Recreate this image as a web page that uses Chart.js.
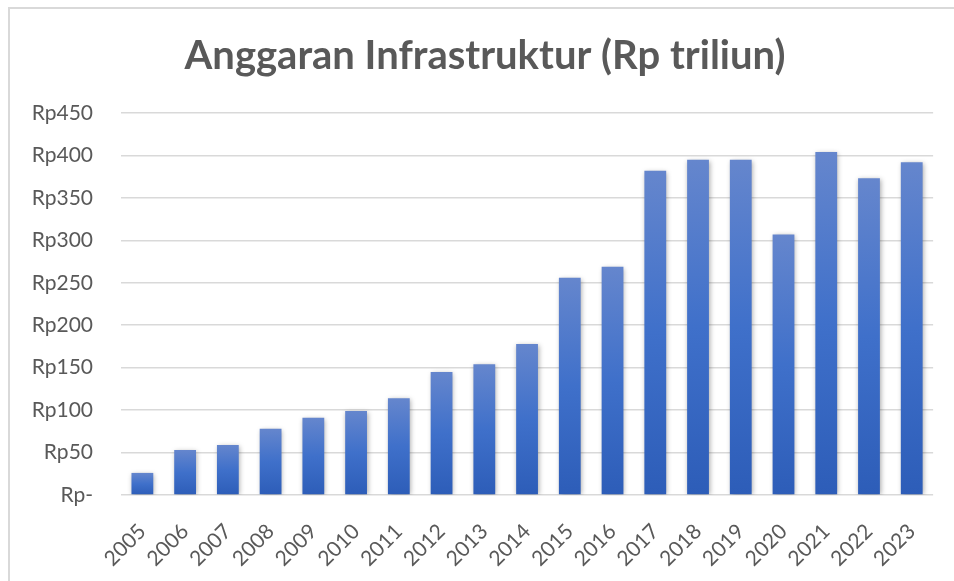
<!DOCTYPE html>
<html>
<head>
<meta charset="utf-8">
<script src="https://cdn.jsdelivr.net/npm/chart.js@4"></script>
<style>
html,body{margin:0;padding:0;background:#fff;overflow:hidden;}
#wrap{position:relative;width:954px;height:581px;}
</style>
</head>
<body>
<div id="wrap"><canvas id="c" width="954" height="581"></canvas></div>
<script>
const years = ['2005','2006','2007','2008','2009','2010','2011','2012','2013','2014','2015','2016','2017','2018','2019','2020','2021','2022','2023'];
const budget = [26, 53, 59, 78, 91, 99, 114, 145, 154, 178, 256, 269, 382, 395, 395, 307, 404, 373, 392];
const yTickValues = [0, 50, 100, 150, 200, 250, 300, 350, 400, 450];
const yTickLabels = ['Rp-', 'Rp50', 'Rp100', 'Rp150', 'Rp200', 'Rp250', 'Rp300', 'Rp350', 'Rp400', 'Rp450'];
const chartTitle = 'Anggaran Infrastruktur (Rp triliun)';

const textColor = '#595959';
const fontFam = 'Lato, "Open Sans", sans-serif';

const framePlugin = {
  id: 'frame',
  beforeDraw(chart) {
    const ctx = chart.ctx;
    ctx.save();
    ctx.fillStyle = '#ffffff';
    ctx.fillRect(0, 0, chart.width, chart.height);
    ctx.fillStyle = '#d9d9d9';
    ctx.fillRect(8, 7, 2, chart.height);
    ctx.fillRect(8, 7, chart.width, 2);
    ctx.restore();
  },
  afterDraw(chart) {
    const ctx = chart.ctx;
    ctx.save();
    ctx.fillStyle = textColor;
    ctx.font = 'bold 40px ' + fontFam;
    ctx.textAlign = 'center';
    ctx.textBaseline = 'middle';
    ctx.fillText(chartTitle, 485, 56);
    ctx.restore();
  }
};
const shadowPlugin = {
  id: 'barShadow',
  beforeDatasetsDraw(chart) {
    const ctx = chart.ctx;
    ctx.save();
    ctx.shadowColor = 'rgba(0,0,0,0.35)';
    ctx.shadowBlur = 5;
    ctx.shadowOffsetX = 1;
    ctx.shadowOffsetY = 1;
  },
  afterDatasetsDraw(chart) {
    chart.ctx.restore();
  }
};

function barGradient(context) {
  const chart = context.chart;
  const sy = chart.scales && chart.scales.y;
  if (!sy || !chart.chartArea || context.raw == null) return '#3e6fcb';
  const top = sy.getPixelForValue(context.raw);
  const base = sy.getPixelForValue(0);
  const g = chart.ctx.createLinearGradient(0, top, 0, base);
  g.addColorStop(0, '#6586cd');
  g.addColorStop(0.5, '#3f70ca');
  g.addColorStop(1, '#2d5db8');
  return g;
}

new Chart(document.getElementById('c'), {
  type: 'bar',
  data: {
    labels: years,
    datasets: [{
      data: budget,
      backgroundColor: barGradient,
      borderWidth: 0,
      categoryPercentage: 1.0,
      barPercentage: 0.51
    }]
  },
  plugins: [framePlugin, shadowPlugin],
  options: {
    responsive: false,
    animation: false,
    devicePixelRatio: 1,
    layout: { padding: { left: 0, right: 17, top: 113, bottom: 0 } },
    plugins: {
      legend: { display: false },
      tooltip: { enabled: false },
      title: { display: false }
    },
    scales: {
      x: {
        grid: { display: false, drawTicks: false },
        border: { display: false },
        ticks: {
          color: textColor,
          font: { family: fontFam, size: 21 },
          minRotation: 45,
          maxRotation: 45,
          padding: 24,
          autoSkip: false
        },
        afterFit(scale) { scale.height = 86; }
      },
      y: {
        min: 0,
        max: 450,
        afterBuildTicks(scale) { scale.ticks = yTickValues.map(v => ({ value: v })); },
        grid: { color: '#d9d9d9', lineWidth: 1.5, drawTicks: false },
        border: { display: false },
        ticks: {
          color: textColor,
          font: { family: fontFam, size: 21 },
          padding: 28,
          callback(v) { const i = yTickValues.indexOf(v); return i >= 0 ? yTickLabels[i] : ''; }
        },
        afterFit(scale) { scale.width = 121; }
      }
    }
  }
});
</script>
</body>
</html>
